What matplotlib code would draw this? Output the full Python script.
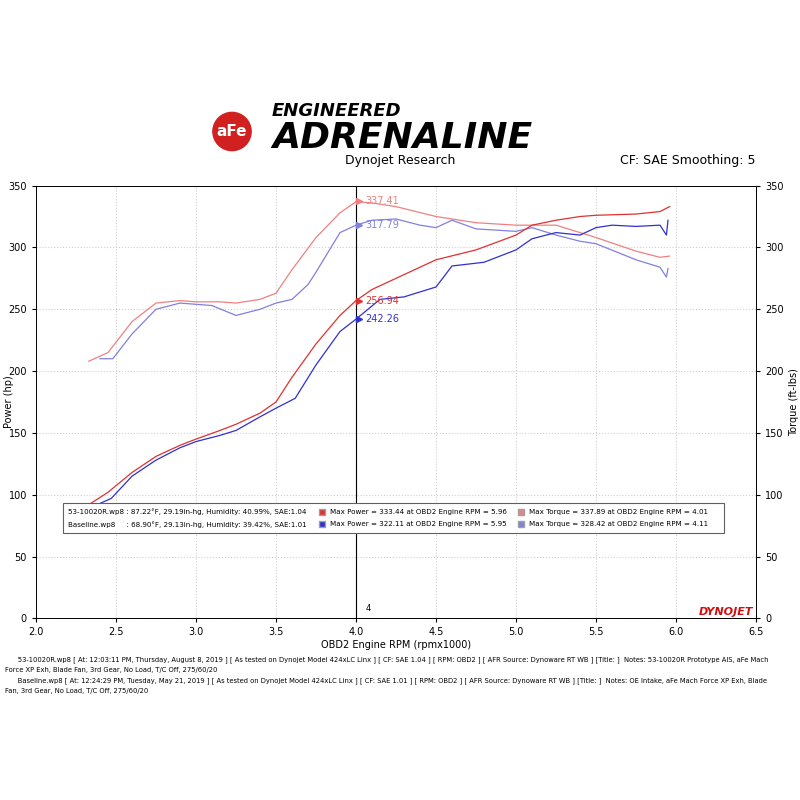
import matplotlib
matplotlib.use('Agg')
import matplotlib.pyplot as plt
from matplotlib.patches import Rectangle

# data
rpm_red_pw = [2.33, 2.45, 2.6, 2.75, 2.9, 3.0, 3.15, 3.25, 3.4, 3.5, 3.6, 3.75, 3.9, 4.0, 4.1, 4.25, 4.5, 4.75, 5.0, 5.1, 5.25, 5.4, 5.5, 5.75, 5.9, 5.96]
red_pw = [92, 102, 118, 131, 140, 145, 152, 157, 166, 175, 195, 222, 245, 257, 266, 275, 290, 298, 310, 318, 322, 325, 326, 327, 329, 333]
rpm_blue_pw = [2.4, 2.47, 2.6, 2.75, 2.9, 3.0, 3.15, 3.25, 3.4, 3.5, 3.62, 3.75, 3.9, 4.0, 4.15, 4.3, 4.5, 4.6, 4.8, 5.0, 5.1, 5.25, 5.4, 5.5, 5.6, 5.75, 5.9, 5.94, 5.95]
blue_pw = [93, 97, 115, 128, 138, 143, 148, 152, 163, 170, 178, 205, 232, 242, 258, 260, 268, 285, 288, 298, 307, 312, 310, 316, 318, 317, 318, 310, 322]
rpm_red_tq = [2.33, 2.45, 2.6, 2.75, 2.9, 3.0, 3.15, 3.25, 3.4, 3.5, 3.6, 3.75, 3.9, 4.0, 4.1, 4.25, 4.5, 4.75, 5.0, 5.25, 5.5, 5.75, 5.9, 5.96]
red_tq = [208, 215, 240, 255, 257, 256, 256, 255, 258, 263, 282, 308, 328, 337, 336, 333, 325, 320, 318, 318, 308, 297, 292, 293]
rpm_blue_tq = [2.4, 2.48, 2.6, 2.75, 2.9, 3.1, 3.25, 3.4, 3.5, 3.6, 3.7, 3.75, 3.9, 4.0, 4.1, 4.25, 4.4, 4.5, 4.6, 4.75, 5.0, 5.1, 5.25, 5.4, 5.5, 5.75, 5.9, 5.94, 5.95]
blue_tq = [210, 210, 230, 250, 255, 253, 245, 250, 255, 258, 270, 280, 312, 318, 322, 323, 318, 316, 322, 315, 313, 316, 310, 305, 303, 290, 284, 276, 283]

run_info = ['53-10020R.wp8 : 87.22°F, 29.19in-hg, Humidity: 40.99%, SAE:1.04',
            'Baseline.wp8     : 68.90°F, 29.13in-hg, Humidity: 39.42%, SAE:1.01']
max_power = ['Max Power = 333.44 at OBD2 Engine RPM = 5.96', 'Max Power = 322.11 at OBD2 Engine RPM = 5.95']
max_torque = ['Max Torque = 337.89 at OBD2 Engine RPM = 4.01', 'Max Torque = 328.42 at OBD2 Engine RPM = 4.11']

fig = plt.figure(figsize=(8, 8), dpi=100)
fig.patch.set_facecolor('white')
ax = fig.add_axes([0.045, 0.227, 0.9, 0.541])

red_dark, red_light = '#e03030', '#f08080'
blue_dark, blue_light = '#3030d0', '#8080e0'
ax.plot(rpm_red_tq, red_tq, color=red_light, lw=0.9)
ax.plot(rpm_blue_tq, blue_tq, color=blue_light, lw=0.9)
ax.plot(rpm_red_pw, red_pw, color=red_dark, lw=0.9)
ax.plot(rpm_blue_pw, blue_pw, color=blue_dark, lw=0.9)

ax.set_xlim(2.0, 6.5)
ax.set_ylim(0, 350)
ax.set_xticks([2.0, 2.5, 3.0, 3.5, 4.0, 4.5, 5.0, 5.5, 6.0, 6.5])
ax.set_yticks(range(0, 351, 50))
ax.grid(True, color='#d0d0d0', ls=':', lw=0.8)
ax.tick_params(labelsize=7, length=3)
ax.set_xlabel('OBD2 Engine RPM (rpmx1000)', fontsize=7, labelpad=2)
ax.set_ylabel('Power (hp)', fontsize=7)
ax.yaxis.set_label_coords(-0.03, 0.5)
ax2 = ax.twinx()
ax2.set_ylim(0, 350)
ax2.set_yticks(range(0, 351, 50))
ax2.tick_params(labelsize=7, length=3)
ax2.set_ylabel('Torque (ft-lbs)', fontsize=7)
for a in (ax, ax2):
    for s in a.spines.values():
        s.set_linewidth(0.6)

# cursor line at 4.0
ax.axvline(4.0, color='black', lw=0.8)
for y, txt, c in [(337.41, '337.41', red_light), (317.79, '317.79', blue_light),
                  (256.94, '256.94', red_dark), (242.26, '242.26', blue_dark)]:
    ax.plot(4.02, y, marker='>', color=c, ms=5)
    ax.text(4.06, y, txt, color=c, fontsize=7, va='center')
ax.text(4.06, 4, '4', fontsize=6, va='bottom')

# legend box
ax.add_patch(Rectangle((2.17, 69), 4.13, 24, facecolor='white', edgecolor='#606060', lw=0.8, zorder=5))
for i, (y, cp, ct) in enumerate([(86, red_dark, red_light), (76, blue_dark, blue_light)]):
    ax.text(2.2, y, run_info[i], fontsize=5.1, va='center', zorder=6)
    ax.plot(3.79, y, marker='s', color=cp, ms=4, mec='#a0a0a0', zorder=6)
    ax.text(3.84, y, max_power[i], fontsize=5.1, va='center', zorder=6)
    ax.plot(5.03, y, marker='s', color=ct, ms=4, mec='#a0a0a0', zorder=6)
    ax.text(5.08, y, max_torque[i], fontsize=5.1, va='center', zorder=6)

ax.text(6.48, 3, 'DYNOJET', color='#d01010', fontsize=8, fontweight='bold', style='italic', ha='right')

# header
fig.text(0.34, 0.855, 'ENGINEERED', fontsize=13, fontweight='bold', style='italic')
fig.text(0.34, 0.815, 'ADRENALINE', fontsize=26, fontweight='bold', style='italic')
fig.text(0.29, 0.83, 'aFe', fontsize=11, fontweight='bold', color='white', ha='center',
         bbox=dict(boxstyle='circle', facecolor='#d02020', edgecolor='none'))
fig.text(0.5, 0.795, 'Dynojet Research', fontsize=9, ha='center')
fig.text(0.945, 0.795, 'CF: SAE Smoothing: 5', fontsize=9, ha='right')

notes = ('      53-10020R.wp8 [ At: 12:03:11 PM, Thursday, August 8, 2019 ] [ As tested on Dynojet Model 424xLC Linx ] [ CF: SAE 1.04 ] [ RPM: OBD2 ] [ AFR Source: Dynoware RT WB ] [Title: ]  Notes: 53-10020R Prototype AIS, aFe Mach\n'
         'Force XP Exh, Blade Fan, 3rd Gear, No Load, T/C Off, 275/60/20\n'
         '      Baseline.wp8 [ At: 12:24:29 PM, Tuesday, May 21, 2019 ] [ As tested on Dynojet Model 424xLC Linx ] [ CF: SAE 1.01 ] [ RPM: OBD2 ] [ AFR Source: Dynoware RT WB ] [Title: ]  Notes: OE Intake, aFe Mach Force XP Exh, Blade\n'
         'Fan, 3rd Gear, No Load, T/C Off, 275/60/20')
fig.text(0.006, 0.18, notes, fontsize=4.9, va='top', linespacing=1.8)

fig.savefig('out.png', dpi=100)
